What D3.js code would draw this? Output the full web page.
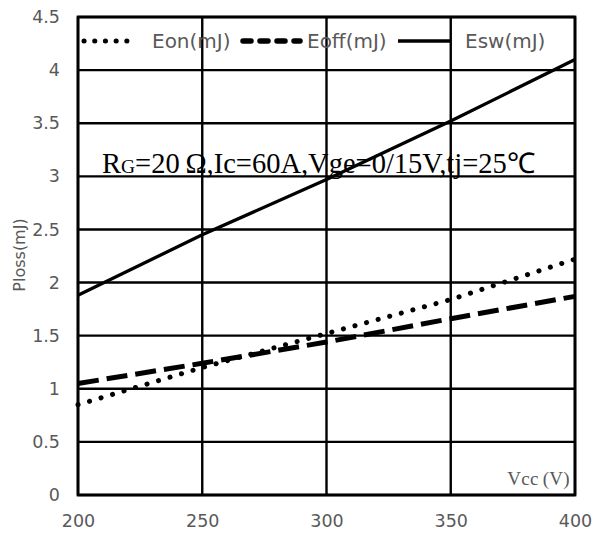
<!DOCTYPE html>
<html><head><meta charset="utf-8">
<script src="https://cdn.jsdelivr.net/npm/d3@7"></script>
<style>body{margin:0;background:#fff}</style>
</head><body>
<svg id="c" width="595" height="534"></svg>
<script>
const vcc = [200, 250, 300, 350, 400];
const eon = [0.85, 1.20, 1.52, 1.84, 2.22];
const eoff = [1.05, 1.24, 1.44, 1.66, 1.87];
const esw = [1.88, 2.45, 2.97, 3.52, 4.10];
const xTicks = [200, 250, 300, 350, 400];
const yTicks = [0, 0.5, 1, 1.5, 2, 2.5, 3, 3.5, 4, 4.5];
const seriesNames = ["Eon(mJ)", "Eoff(mJ)", "Esw(mJ)"];

const svg = d3.select("#c");
const L = 78, R = 575, T = 17, B = 495;
const x = d3.scaleLinear().domain([200, 400]).range([L, R]);
const y = d3.scaleLinear().domain([0, 4.5]).range([B, T]);
const sans = "DejaVu Sans";
const serif = "Liberation Serif";
const gray = "#595959";

// grid
svg.append("g").selectAll("line").data(yTicks).join("line")
  .attr("x1", L).attr("x2", R).attr("y1", d => y(d)).attr("y2", d => y(d))
  .attr("stroke", "#000").attr("stroke-width", 2.4);
svg.append("g").selectAll("line").data(xTicks).join("line")
  .attr("y1", T).attr("y2", B).attr("x1", d => x(d)).attr("x2", d => x(d))
  .attr("stroke", "#000").attr("stroke-width", 2.4);
svg.append("rect").attr("x", L).attr("y", T).attr("width", R - L).attr("height", B - T)
  .attr("fill", "none").attr("stroke", "#000").attr("stroke-width", 2.8);

// axes labels
const ya = d3.axisLeft(y).tickValues(yTicks).tickSize(0).tickPadding(18).tickFormat(d => d);
const gy = svg.append("g").attr("transform", `translate(${L},0)`).call(ya);
gy.select(".domain").remove();
gy.attr("font-family", sans).attr("font-size", 17.5);
gy.selectAll("text").attr("fill", gray);
const xa = d3.axisBottom(x).tickValues(xTicks).tickSize(0).tickPadding(20).tickFormat(d => d);
const gx = svg.append("g").attr("transform", `translate(0,${B})`).call(xa);
gx.select(".domain").remove();
gx.attr("font-family", sans).attr("font-size", 17.5);
gx.selectAll("text").attr("fill", gray);

svg.append("text").attr("transform", `translate(25,255) rotate(-90)`)
  .attr("text-anchor", "middle").attr("fill", gray)
  .attr("font-family", sans).attr("font-size", 16).text("Ploss(mJ)");

// lines
const line = d3.line().x((d, i) => x(vcc[i])).y(d => y(d));
svg.append("path").datum(eon).attr("d", line).attr("fill", "none").attr("stroke", "#000")
  .attr("stroke-width", 5).attr("stroke-linecap", "round").attr("stroke-dasharray", "0.1 11.9");
svg.append("path").datum(eoff).attr("d", line).attr("fill", "none").attr("stroke", "#000")
  .attr("stroke-width", 5).attr("stroke-dasharray", "21 8");
svg.append("path").datum(esw).attr("d", line).attr("fill", "none").attr("stroke", "#000")
  .attr("stroke-width", 3.3);

// legend
const ly = 41;
const leg = [
  {x1: 84, x2: 137, tx: 152, dash: "0.1 10.6", cap: "round", w: 5},
  {x1: 243, x2: 300, tx: 307, dash: "8 9", cap: "round", w: 5.5},
  {x1: 398, x2: 450, tx: 465, dash: null, cap: "butt", w: 3.5}
];
leg.forEach((l, i) => {
  svg.append("line").attr("x1", l.x1).attr("x2", l.x2).attr("y1", ly).attr("y2", ly)
    .attr("stroke", "#000").attr("stroke-width", l.w).attr("stroke-linecap", l.cap)
    .attr("stroke-dasharray", l.dash);
  svg.append("text").attr("x", l.tx).attr("y", ly + 7).attr("fill", gray)
    .attr("font-family", sans).attr("font-size", 20).text(seriesNames[i]);
});

// annotation
const ann = svg.append("text").attr("x", 102).attr("y", 173).attr("fill", "#000")
  .attr("font-family", serif).attr("font-size", 28.5);
ann.append("tspan").text("R");
ann.append("tspan").attr("font-size", 19.5).text("G");
ann.append("tspan").text("=20\u2009\u03A9,Ic=60A,Vge=0/15V,tj=25\u2103");

svg.append("text").attr("x", 570).attr("y", 485).attr("text-anchor", "end").attr("fill", gray)
  .attr("font-family", serif).attr("font-size", 19).attr("letter-spacing", 0.3).text("Vcc\u2009(V)");
</script>
</body></html>
